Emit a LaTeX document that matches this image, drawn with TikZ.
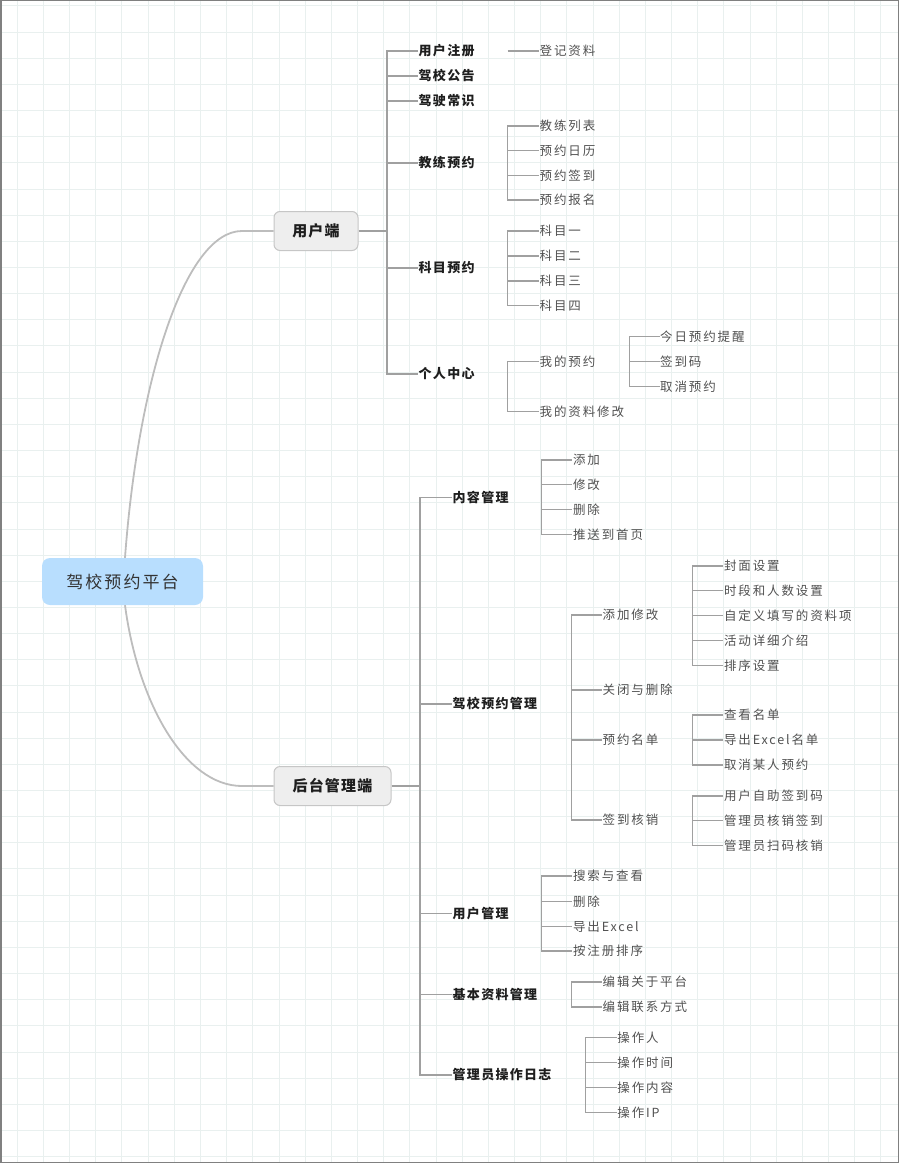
\documentclass[tikz,border=0pt]{standalone}
\usepackage{fontspec}
\setmainfont{Noto Sans CJK SC}
\newfontfamily\rootfont{Noto Sans CJK SC}[LetterSpace=12]
\newfontfamily\hubfont{Noto Sans CJK SC}[LetterSpace=8]
\newfontfamily\topicfont{Noto Sans CJK SC}[LetterSpace=10]
\newfontfamily\leaffont{Noto Sans CJK SC}[LetterSpace=15]

\definecolor{gridcol}{RGB}{233,240,239}
\definecolor{framecol}{RGB}{128,128,128}
\definecolor{rootblue}{RGB}{184,222,254}
\definecolor{hubfill}{RGB}{238,238,238}
\definecolor{hubdraw}{RGB}{198,198,198}
\definecolor{curvecol}{RGB}{189,189,189}
\definecolor{linecol}{RGB}{160,160,160}
\definecolor{topiccol}{RGB}{30,30,30}
\definecolor{leafcol}{RGB}{80,80,80}

\tikzset{
  root/.style={fill=rootblue, rounded corners=8pt, minimum width=161pt, minimum height=47pt,
    inner sep=0pt, text=black!80, font=\rootfont\fontsize{17}{20}\selectfont},
  hub/.style={draw=hubdraw, line width=1pt, fill=hubfill, rounded corners=6pt, minimum height=39pt,
    inner sep=0pt, text=topiccol, font=\hubfont\bfseries\fontsize{15}{18}\selectfont},
  topic/.style={anchor=west, inner sep=0.5pt, text=topiccol, font=\topicfont\bfseries\fontsize{13}{15}\selectfont},
  leaf/.style={anchor=west, inner sep=0.5pt, text=leafcol, font=\leaffont\fontsize{12.5}{15}\selectfont},
  branch/.style={draw=curvecol, line width=1.8pt},
  link/.style={draw=linecol, line width=1.2pt}
}

\begin{document}
\begin{tikzpicture}[x=1pt, y=-1pt]

\useasboundingbox (0,0) rectangle (900,1164);
\foreach \gx in {0,...,33} {
  \draw[gridcol, line width=1pt] (17.3+26.17*\gx, 1) -- (17.3+26.17*\gx, 1162);
}
\foreach \gy in {0,...,44} {
  \draw[gridcol, line width=1pt] (1, 6+26.15*\gy) -- (898, 6+26.15*\gy);
}
\draw[framecol, line width=1.2pt] (1,0.6) rectangle (898.4,1162.4);

\node[root] (root) at (122.5, 581.5) {驾校预约平台};
\node[hub, minimum width=84pt] (yhd) at (316, 231) {用户端};
\node[hub, minimum width=117pt] (hthd) at (332.5, 786) {后台管理端};

\coordinate (yk) at (242, 231);
\coordinate (hk) at (242, 786);
\draw[branch] ([xshift=2.5pt]root.north) .. controls (138, 380) and (185, 231) .. (yk) -- (yhd.west);
\draw[branch] ([xshift=2.5pt]root.south) .. controls (138, 703) and (185, 786) .. (hk) -- (hthd.west);

% user side
\node[topic] (zc) at (418, 51) {用户注册};
\node[topic] (gg) at (418, 76) {驾校公告};
\node[topic] (cs) at (418, 101) {驾驶常识};
\node[topic] (jlyy) at (418, 163) {教练预约};
\node[topic] (kmyy) at (418, 268) {科目预约};
\node[topic] (grzx) at (418, 374) {个人中心};

\node[leaf] (djzl) at (539, 51) {登记资料};
\node[leaf] (jllb) at (539, 126) {教练列表};
\node[leaf] (yyrl) at (539, 150.7) {预约日历};
\node[leaf] (yyqd) at (539, 175.3) {预约签到};
\node[leaf] (yybm) at (539, 200) {预约报名};
\node[leaf] (km1) at (539, 231) {科目一};
\node[leaf] (km2) at (539, 256) {科目二};
\node[leaf] (km3) at (539, 281) {科目三};
\node[leaf] (km4) at (539, 305.5) {科目四};
\node[leaf] (wdyy) at (539, 361.7) {我的预约};
\node[leaf] (wdzl) at (539, 411.7) {我的资料修改};
\node[leaf] (jrtx) at (659.5, 336.7) {今日预约提醒};
\node[leaf] (qdm) at (659.5, 361.7) {签到码};
\node[leaf] (qxyy) at (659.5, 386.7) {取消预约};

\coordinate (yt) at (387, 231);
\coordinate (zcb) at (507.7, 51);
\coordinate (jlb) at (507.7, 163);
\coordinate (kmb) at (507.7, 268);
\coordinate (grb) at (507.7, 374);
\coordinate (wdb) at (629.3, 361.7);

\draw[link] (yhd.east) -- (yt) (yt) |- (zc.west) (yt) |- (gg.west) (yt) |- (cs.west)
  (yt) |- (jlyy.west) (yt) |- (kmyy.west) (yt) |- (grzx.west);
\draw[link] (zcb) -- (djzl.west);
\draw[link] (jlb) |- (jllb.west) (jlb) |- (yyrl.west) (jlb) |- (yyqd.west) (jlb) |- (yybm.west);
\draw[link] (kmb) |- (km1.west) (kmb) |- (km2.west) (kmb) |- (km3.west) (kmb) |- (km4.west);
\draw[link] (grb) |- (wdyy.west) (grb) |- (wdzl.west);
\draw[link] (wdb) |- (jrtx.west) (wdb) |- (qdm.west) (wdb) |- (qxyy.west);

% admin side
\node[topic] (nrgl) at (452, 497.3) {内容管理};
\node[topic] (jxyy) at (452, 704) {驾校预约管理};
\node[topic] (yhgl) at (452, 913.3) {用户管理};
\node[topic] (jbzl) at (452, 994.3) {基本资料管理};
\node[topic] (czrz) at (452, 1075) {管理员操作日志};

\node[leaf] (tj) at (572.3, 460) {添加};
\node[leaf] (xg) at (572.3, 484.3) {修改};
\node[leaf] (sc) at (572.3, 509.3) {删除};
\node[leaf] (tssy) at (572.3, 534.3) {推送到首页};

\node[leaf] (tjxg) at (602, 615) {添加修改};
\node[leaf] (gbsc) at (602, 690) {关闭与删除};
\node[leaf] (yymd) at (602, 740) {预约名单};
\node[leaf] (qdhx) at (602, 820) {签到核销};

\node[leaf] (fmsz) at (723.3, 566) {封面设置};
\node[leaf] (sdrs) at (723.3, 590.7) {时段和人数设置};
\node[leaf] (zdyx) at (723.3, 615.3) {自定义填写的资料项};
\node[leaf] (hdjs) at (723.3, 640.7) {活动详细介绍};
\node[leaf] (pxsz) at (723.3, 665.7) {排序设置};
\node[leaf] (ckmd) at (723.3, 715) {查看名单};
\node[leaf] (dcmd) at (723.3, 740) {导出Excel名单};
\node[leaf] (qxry) at (723.3, 765) {取消某人预约};
\node[leaf] (zzqd) at (723.3, 796) {用户自助签到码};
\node[leaf] (hxqd) at (723.3, 820.7) {管理员核销签到};
\node[leaf] (smhx) at (723.3, 845.7) {管理员扫码核销};

\node[leaf] (sscx) at (572.3, 876) {搜索与查看};
\node[leaf] (yhsc) at (572.3, 901.3) {删除};
\node[leaf] (dcex) at (572.3, 926.7) {导出Excel};
\node[leaf] (zcpx) at (572.3, 951) {按注册排序};

\node[leaf] (gypt) at (602, 982) {编辑关于平台};
\node[leaf] (lxfs) at (602, 1007) {编辑联系方式};

\node[leaf] (czr) at (616.7, 1037.7) {操作人};
\node[leaf] (czsj) at (616.7, 1062.7) {操作时间};
\node[leaf] (cznr) at (616.7, 1087.7) {操作内容};
\node[leaf] (czip) at (616.7, 1112.3) {操作IP};

\coordinate (ht) at (420, 786);
\coordinate (nrb) at (541.7, 497.3);
\coordinate (jxb) at (571.7, 704);
\coordinate (tjb) at (692.7, 615);
\coordinate (ymb) at (692.7, 740);
\coordinate (qdb) at (692.7, 820);
\coordinate (yhb) at (541.7, 913.3);
\coordinate (jbb) at (571.7, 994.3);
\coordinate (czb) at (585.7, 1075);

\draw[link] (hthd.east) -- (ht) (ht) |- (nrgl.west) (ht) |- (jxyy.west) (ht) |- (yhgl.west)
  (ht) |- (jbzl.west) (ht) |- (czrz.west);
\draw[link] (nrb) |- (tj.west) (nrb) |- (xg.west) (nrb) |- (sc.west) (nrb) |- (tssy.west);
\draw[link] (jxb) |- (tjxg.west) (jxb) |- (gbsc.west) (jxb) |- (yymd.west) (jxb) |- (qdhx.west);
\draw[link] (tjb) |- (fmsz.west) (tjb) |- (sdrs.west) (tjb) |- (zdyx.west) (tjb) |- (hdjs.west)
  (tjb) |- (pxsz.west);
\draw[link] (ymb) |- (ckmd.west) (ymb) |- (dcmd.west) (ymb) |- (qxry.west);
\draw[link] (qdb) |- (zzqd.west) (qdb) |- (hxqd.west) (qdb) |- (smhx.west);
\draw[link] (yhb) |- (sscx.west) (yhb) |- (yhsc.west) (yhb) |- (dcex.west) (yhb) |- (zcpx.west);
\draw[link] (jbb) |- (gypt.west) (jbb) |- (lxfs.west);
\draw[link] (czb) |- (czr.west) (czb) |- (czsj.west) (czb) |- (cznr.west) (czb) |- (czip.west);

\end{tikzpicture}
\end{document}
